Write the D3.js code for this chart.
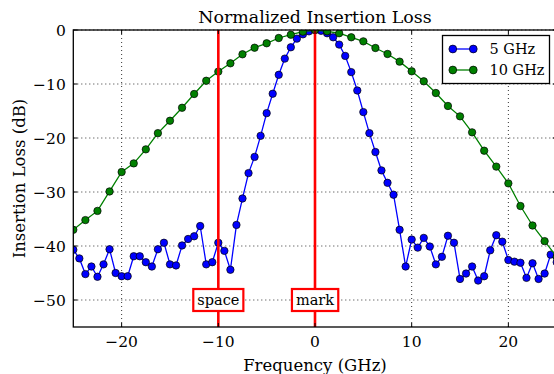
<!DOCTYPE html>
<html>
<head>
<meta charset="utf-8">
<script src="https://cdn.jsdelivr.net/npm/d3@7"></script>
<style>
  html, body { margin: 0; padding: 0; background: #fff; overflow: hidden; }
  svg text { font-family: "DejaVu Serif", "Liberation Serif", "Times New Roman", serif; }
</style>
</head>
<body>
<svg id="chart" width="554" height="374"></svg>
<script>
// ── Data ─────────────────────────────────────────────────────────────────────
const freq5 = [
  -25, -24.375, -23.75, -23.125, -22.5, -21.875, -21.25, -20.625, -20, -19.375,
  -18.75, -18.125, -17.5, -16.875, -16.25, -15.625, -15, -14.375, -13.75, -13.125,
  -12.5, -11.875, -11.25, -10.625, -10, -9.375, -8.75, -8.125, -7.5, -6.875,
  -6.25, -5.625, -5, -4.375, -3.75, -3.125, -2.5, -1.875, -1.25, -0.625,
  0, 0.625, 1.25, 1.875, 2.5, 3.125, 3.75, 4.375, 5, 5.625,
  6.25, 6.875, 7.5, 8.125, 8.75, 9.375, 10, 10.625, 11.25, 11.875,
  12.5, 13.125, 13.75, 14.375, 15, 15.625, 16.25, 16.875, 17.5, 18.125,
  18.75, 19.375, 20, 20.625, 21.25, 21.875, 22.5, 23.125, 23.75, 24.375, 25
];
const loss5 = [
  -40.7, -42.3, -45.2, -43.8, -45.7, -43.4, -40.6, -45.0, -45.6, -45.6,
  -41.9, -41.9, -43.0, -43.8, -40.6, -39.4, -43.4, -43.6, -39.9, -38.7,
  -38.2, -36.3, -43.4, -43.0, -39.4, -40.9, -44.4, -36.1, -31.2, -26.5,
  -23.5, -19.6, -15.4, -11.8, -8.3, -5.3, -3.2, -1.6, -0.8, -0.25,
  0,
  -0.15, -0.6, -1.35, -2.7, -4.8, -7.8, -11.2, -15.2, -19.1, -22.6,
  -26.0, -28.3, -30.5, -37.0, -43.8, -38.8, -40.3, -38.5, -40.1, -43.4,
  -42.0, -38.1, -39.4, -46.1, -45.1, -43.8, -46.4, -45.6, -40.8, -38.0,
  -39.2, -42.6, -42.9, -43.1, -45.9, -43.2, -46.1, -45.1, -41.6, -43.0
];
const freq10 = [
  -25, -23.75, -22.5, -21.25, -20, -18.75, -17.5, -16.25, -15, -13.75,
  -12.5, -11.25, -10, -8.75, -7.5, -6.25, -5, -3.75, -2.5, -1.25,
  0, 1.25, 2.5, 3.75, 5, 6.25, 7.5, 8.75, 10, 11.25,
  12.5, 13.75, 15, 16.25, 17.5, 18.75, 20, 21.25, 22.5, 23.75, 25
];
const loss10 = [
  -37.0, -35.2, -33.5, -29.9, -26.3, -24.7, -22.1, -19.1, -16.8, -14.4,
  -11.85, -9.4, -7.7, -6.17, -4.5, -3.28, -2.46, -1.48, -0.87, -0.31,
  0,
  -0.24, -0.6, -1.35, -2.1, -3.33, -4.44, -5.86, -7.65, -9.5, -11.67,
  -14.07, -15.99, -18.95, -22.35, -25.3, -28.4, -32.6, -36.2, -39.1, -42.0
];
const seriesNames  = ["5 GHz", "10 GHz"];
const seriesColors = ["#0000ff", "#008000"];
const markFreqs  = [-10, 0];
const markLabels = ["space", "mark"];
const markLevel  = -50;
const xTicks = [-20, -10, 0, 10, 20];
const yTicks = [0, -10, -20, -30, -40, -50];

// ── Layout ───────────────────────────────────────────────────────────────────
const M = { left: 73.3, top: 30, right: 556.7, bottom: 327 };
const svg = d3.select("#chart");

const x = d3.scaleLinear().domain([-25, 25]).range([M.left, M.right]);
const y = d3.scaleLinear().domain([-55, 0]).range([M.bottom, M.top]);
const fmt = d3.format("");

svg.append("defs").append("clipPath").attr("id", "plot-clip")
  .append("rect")
  .attr("x", M.left).attr("y", M.top)
  .attr("width", M.right - M.left).attr("height", M.bottom - M.top);

// ── Grid (dotted) ────────────────────────────────────────────────────────────
const grid = svg.append("g").attr("stroke", "#000").attr("stroke-width", 0.8)
  .attr("stroke-dasharray", "1,3");
xTicks.forEach(t => grid.append("line")
  .attr("x1", x(t)).attr("x2", x(t)).attr("y1", M.top).attr("y2", M.bottom));
yTicks.forEach(t => grid.append("line")
  .attr("x1", M.left).attr("x2", M.right).attr("y1", y(t)).attr("y2", y(t)));

// ── Series ───────────────────────────────────────────────────────────────────
const plot = svg.append("g").attr("clip-path", "url(#plot-clip)");
const series = [
  { freq: freq5,  loss: loss5,  color: seriesColors[0] },
  { freq: freq10, loss: loss10, color: seriesColors[1] }
];
const line = d3.line().x(d => x(d[0])).y(d => y(d[1]));

series.forEach(s => {
  const pts = s.freq.map((f, i) => [f, s.loss[i]]);
  plot.append("path").datum(pts)
    .attr("d", line)
    .attr("fill", "none")
    .attr("stroke", s.color)
    .attr("stroke-width", 1.3);
  plot.append("g").selectAll("circle")
    .data(pts)
    .join("circle")
    .attr("cx", d => x(d[0]))
    .attr("cy", d => y(d[1]))
    .attr("r", 3.7)
    .attr("fill", s.color)
    .attr("stroke", "#000")
    .attr("stroke-width", 0.7);
});

// ── Mark / space lines with boxed labels ─────────────────────────────────────
markFreqs.forEach(f => {
  svg.append("line")
    .attr("x1", x(f)).attr("x2", x(f))
    .attr("y1", M.top).attr("y2", M.bottom)
    .attr("stroke", "#ff0000").attr("stroke-width", 2.6);
});
markFreqs.forEach((f, i) => {
  const g = svg.append("g").attr("transform", `translate(${x(f)},${y(markLevel)})`);
  const txt = g.append("text")
    .attr("text-anchor", "middle").attr("dy", "0.35em")
    .attr("font-size", 14.5).attr("fill", "#000")
    .text(markLabels[i]);
  const bb = txt.node().getBBox();
  g.insert("rect", "text")
    .attr("x", bb.x - 4).attr("y", -11)
    .attr("width", bb.width + 8).attr("height", 22)
    .attr("fill", "#fff")
    .attr("stroke", "#ff0000").attr("stroke-width", 2.2);
});

// ── Axes frame and inward ticks ──────────────────────────────────────────────
svg.append("rect")
  .attr("x", M.left).attr("y", M.top)
  .attr("width", M.right - M.left).attr("height", M.bottom - M.top)
  .attr("fill", "none").attr("stroke", "#000").attr("stroke-width", 1.3);

const ticks = svg.append("g").attr("stroke", "#000").attr("stroke-width", 1);
xTicks.forEach(t => {
  ticks.append("line").attr("x1", x(t)).attr("x2", x(t))
    .attr("y1", M.bottom).attr("y2", M.bottom - 4);
  ticks.append("line").attr("x1", x(t)).attr("x2", x(t))
    .attr("y1", M.top).attr("y2", M.top + 4);
});
yTicks.forEach(t => {
  ticks.append("line").attr("x1", M.left).attr("x2", M.left + 4)
    .attr("y1", y(t)).attr("y2", y(t));
  ticks.append("line").attr("x1", M.right).attr("x2", M.right - 4)
    .attr("y1", y(t)).attr("y2", y(t));
});

svg.append("g").selectAll("text")
  .data(xTicks).join("text")
  .attr("x", d => x(d)).attr("y", 347)
  .attr("text-anchor", "middle").attr("font-size", 15.5)
  .text(d => fmt(d));
svg.append("g").selectAll("text")
  .data(yTicks).join("text")
  .attr("x", M.left - 7.5).attr("y", d => y(d)).attr("dy", "0.36em")
  .attr("text-anchor", "end").attr("font-size", 15.5)
  .text(d => fmt(d));

// ── Titles ───────────────────────────────────────────────────────────────────
svg.append("text")
  .attr("x", (M.left + M.right) / 2).attr("y", 22.7)
  .attr("text-anchor", "middle").attr("font-size", 17.4)
  .text("Normalized Insertion Loss");
svg.append("text")
  .attr("x", (M.left + M.right) / 2).attr("y", 370.5)
  .attr("text-anchor", "middle").attr("font-size", 16.5)
  .text("Frequency (GHz)");
svg.append("text")
  .attr("transform", `translate(25,${(M.top + M.bottom) / 2}) rotate(-90)`)
  .attr("text-anchor", "middle").attr("font-size", 16.5)
  .text("Insertion Loss (dB)");

// ── Legend ───────────────────────────────────────────────────────────────────
const lg = svg.append("g").attr("transform", "translate(442.5,35.5)");
lg.append("rect")
  .attr("width", 107).attr("height", 48)
  .attr("fill", "#fff").attr("stroke", "#000").attr("stroke-width", 1.3);
seriesNames.forEach((name, i) => {
  const ry = 13.5 + i * 21;
  lg.append("line").attr("x1", 10.3).attr("x2", 30.8).attr("y1", ry).attr("y2", ry)
    .attr("stroke", seriesColors[i]).attr("stroke-width", 1.3);
  [10.3, 30.8].forEach(cx => lg.append("circle")
    .attr("cx", cx).attr("cy", ry).attr("r", 3.9)
    .attr("fill", seriesColors[i]).attr("stroke", "#000").attr("stroke-width", 0.7));
  lg.append("text").attr("x", 47).attr("y", ry).attr("dy", "0.36em")
    .attr("font-size", 14.5).text(name);
});
</script>
</body>
</html>
